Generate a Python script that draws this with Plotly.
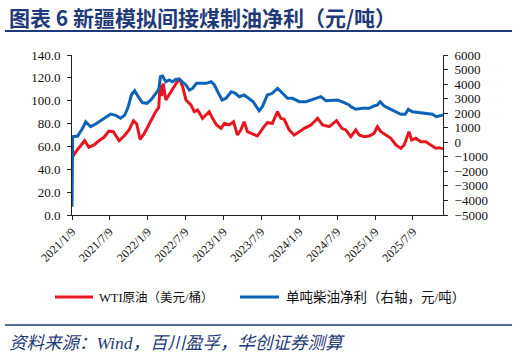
import plotly.graph_objects as go

# ---- data ----
wti_dates = ["2021-01-09","2021-01-12","2021-01-28","2021-02-21","2021-03-11","2021-03-31","2021-04-25",
    "2021-05-19","2021-06-12","2021-07-06","2021-07-27","2021-08-24","2021-09-17","2021-10-11","2021-11-01",
    "2021-11-17","2021-12-03","2021-12-22","2022-01-16","2022-02-12","2022-03-03","2022-03-09","2022-03-16",
    "2022-03-24","2022-04-06","2022-04-30","2022-05-24","2022-06-10","2022-06-26","2022-07-12","2022-08-05",
    "2022-08-21","2022-09-06","2022-09-30","2022-10-16","2022-11-01","2022-11-17","2022-12-06","2022-12-28",
    "2023-01-13","2023-02-06","2023-02-26","2023-03-17","2023-04-02","2023-04-18","2023-05-04","2023-05-28",
    "2023-06-21","2023-07-23","2023-08-08","2023-09-01","2023-09-26","2023-10-12","2023-10-28","2023-11-21",
    "2023-12-15","2024-01-09","2024-02-02","2024-03-05","2024-04-06","2024-04-30","2024-06-01","2024-07-06",
    "2024-08-01","2024-08-20","2024-09-05","2024-09-13","2024-10-07","2024-10-23","2024-11-16","2024-12-10",
    "2025-01-03","2025-01-19","2025-02-05","2025-03-01","2025-03-25","2025-04-18","2025-05-12","2025-05-28",
    "2025-06-20","2025-07-03","2025-07-22","2025-08-16","2025-09-09","2025-10-03","2025-10-27","2025-11-12",
    "2025-12-01"]
wti_values = [52, 51, 55.4, 61.3, 65, 59.2, 61.3,
    65, 68, 73.5, 72.9, 65, 69.1, 74.4, 82.5,
    79.6, 66.2, 70.9, 80.2, 89, 94.2, 114, 104,
    115, 100.6, 107.9, 115, 119.6, 112.3, 100.6, 96.3,
    90.4, 91.9, 84.6, 87.5, 90.4, 84.6, 78.8, 75.8,
    80.2, 78.8, 81.6, 70, 74.4, 81.6, 72.9, 70.9,
    69.1, 77.3, 80.8, 80.2, 90.4, 84.6, 83.7, 74.4,
    70, 72.9, 75.8, 78.8, 84.6, 78.8, 77.3, 82.5,
    75.8, 74.4, 70, 68.5, 74.4, 70, 68.5, 69.1,
    71.5, 77.3, 72.9, 70, 67.1, 61.3, 58.4, 61.3,
    72.9, 65.6, 67.1, 64.2, 64.2, 61.3, 58.4, 58.9,
    57.8]

profit_dates = ["2021-01-09","2021-01-12","2021-02-05","2021-03-01","2021-03-16","2021-04-09","2021-05-03",
    "2021-05-27","2021-06-20","2021-07-14","2021-08-07","2021-08-31","2021-09-20","2021-10-06","2021-10-22",
    "2021-11-07","2021-11-24","2021-12-14","2022-01-04","2022-01-24","2022-02-17","2022-03-03","2022-03-11",
    "2022-03-21","2022-04-06","2022-04-22","2022-05-08","2022-05-24","2022-06-10","2022-06-26","2022-07-12",
    "2022-07-28","2022-08-13","2022-09-01","2022-09-23","2022-10-16","2022-11-10","2022-11-26","2022-12-16",
    "2023-01-02","2023-01-21","2023-02-15","2023-03-07","2023-03-26","2023-04-18","2023-05-09","2023-06-01",
    "2023-06-21","2023-06-29","2023-07-15","2023-08-08","2023-09-01","2023-09-26","2023-10-20","2023-11-13",
    "2023-12-07","2024-01-09","2024-02-10","2024-03-12","2024-04-22","2024-05-16","2024-06-17","2024-07-11",
    "2024-08-12","2024-09-05","2024-09-13","2024-10-07","2024-11-09","2024-12-10","2025-01-03","2025-01-19",
    "2025-02-01","2025-02-21","2025-03-25","2025-04-18","2025-05-12","2025-06-02","2025-06-17","2025-07-06",
    "2025-08-08","2025-09-09","2025-10-11","2025-10-30","2025-11-20","2025-12-01"]
profit_values = [-4430, 383, 431, 961, 1414, 1071, 1256,
    1483, 1758, 1944, 1854, 1648, 1875, 2404, 3250,
    3546, 3133, 2721, 2679, 2906, 3367, 3642, 4508,
    4556, 4164, 4281, 4164, 4329, 4329, 4164, 3938,
    3594, 3711, 4054, 4054, 4054, 4164, 3938, 3367,
    2906, 3023, 3477, 3367, 3133, 3250, 3023, 2789,
    2336, 2171, 2446, 3250, 3367, 3711, 3367, 3023,
    3023, 2789, 2789, 2954, 3133, 2858, 2858, 2906,
    2721, 2563, 2446, 2267, 2336, 2336, 2494, 2563,
    2789, 2494, 2267, 2102, 1923, 1923, 2267, 2102,
    2034, 1992, 1923, 1758, 1806, 1875]

tick_dates = ["2021-01-09","2021-07-09","2022-01-09","2022-07-09","2023-01-09",
              "2023-07-09","2024-01-09","2024-07-09","2025-01-09","2025-07-09"]
tick_labels = ["2021/1/9","2021/7/9","2022/1/9","2022/7/9","2023/1/9",
               "2023/7/9","2024/1/9","2024/7/9","2025/1/9","2025/7/9"]

series_names = ["WTI原油（美元/桶）", "单吨柴油净利（右轴，元/吨）"]

RED = "#E5161F"
BLUE = "#0B63B8"
NAVY = "#1F3A78"
SERIF = "Liberation Serif, Noto Sans CJK SC"

# plot area in pixels: x 72..443, y 55..215
PL, PR, PT, PB = 72, 443, 55, 215
def px(x):
    return (x - PL) / (PR - PL)
def py(y):
    return (PB - y) / (PB - PT)

fig = go.Figure()
fig.add_trace(go.Scatter(x=wti_dates, y=wti_values, mode="lines", name=series_names[0],
                         line=dict(color=RED, width=3)))
fig.add_trace(go.Scatter(x=profit_dates, y=profit_values, mode="lines", name=series_names[1],
                         line=dict(color=BLUE, width=3), yaxis="y2"))

axis_common = dict(showline=True, linecolor="#222", linewidth=1, ticks="outside", ticklen=4,
                   tickcolor="#222", showgrid=False, zeroline=False)
tickfont = dict(family=SERIF, size=13, color="#111")

fig.update_layout(
    width=518, height=358,
    margin=dict(l=PL, r=518 - PR, t=PT, b=358 - PB, autoexpand=False),
    paper_bgcolor="white", plot_bgcolor="white",
    showlegend=False,
    xaxis=dict(type="date", range=["2021-01-09", "2025-12-01"], tickvals=tick_dates,
               ticktext=tick_labels, tickangle=-45, tickfont=dict(family=SERIF, size=12, color="#111"),
               **axis_common),
    yaxis=dict(range=[0, 140], dtick=20, tickformat=".1f", ticklabelstandoff=4, tickfont=tickfont,
               **axis_common),
    yaxis2=dict(range=[-5000, 6000], dtick=1000, overlaying="y", side="right",
                ticklabelstandoff=4, tickfont=tickfont, **axis_common),
    shapes=[
        dict(type="line", xref="paper", yref="paper", x0=px(5), x1=px(512),
             y0=py(31), y1=py(31), line=dict(color=NAVY, width=2)),
        dict(type="line", xref="paper", yref="paper", x0=px(5), x1=px(512),
             y0=py(325), y1=py(325), line=dict(color=NAVY, width=1.5)),
        # legend samples
        dict(type="line", xref="paper", yref="paper", x0=px(55), x1=px(93),
             y0=py(297), y1=py(297), line=dict(color=RED, width=3)),
        dict(type="line", xref="paper", yref="paper", x0=px(240), x1=px(279),
             y0=py(297), y1=py(297), line=dict(color=BLUE, width=3)),
    ],
    annotations=[
        dict(text="<b>图表 6 新疆模拟间接煤制油净利（元/吨）</b>", xref="paper", yref="paper",
             x=px(7), y=py(17), xanchor="left", yanchor="middle", showarrow=False,
             font=dict(family="Noto Sans CJK SC", size=21, color=NAVY)),
        dict(text=series_names[0], xref="paper", yref="paper",
             x=px(97), y=py(297), xanchor="left", yanchor="middle", showarrow=False,
             font=dict(family=SERIF, size=12.5, color="#111")),
        dict(text=series_names[1], xref="paper", yref="paper",
             x=px(284), y=py(297), xanchor="left", yanchor="middle", showarrow=False,
             font=dict(family=SERIF, size=13.5, color="#111")),
        dict(text="<i>资料来源：Wind，百川盈孚，华创证券测算</i>", xref="paper", yref="paper",
             x=px(7), y=py(343), xanchor="left", yanchor="middle", showarrow=False,
             font=dict(family=SERIF, size=17.5, color=NAVY)),
    ],
)

fig.write_html("out.html", config={"displayModeBar": False},
               post_script="document.body.style.margin='0px';")
